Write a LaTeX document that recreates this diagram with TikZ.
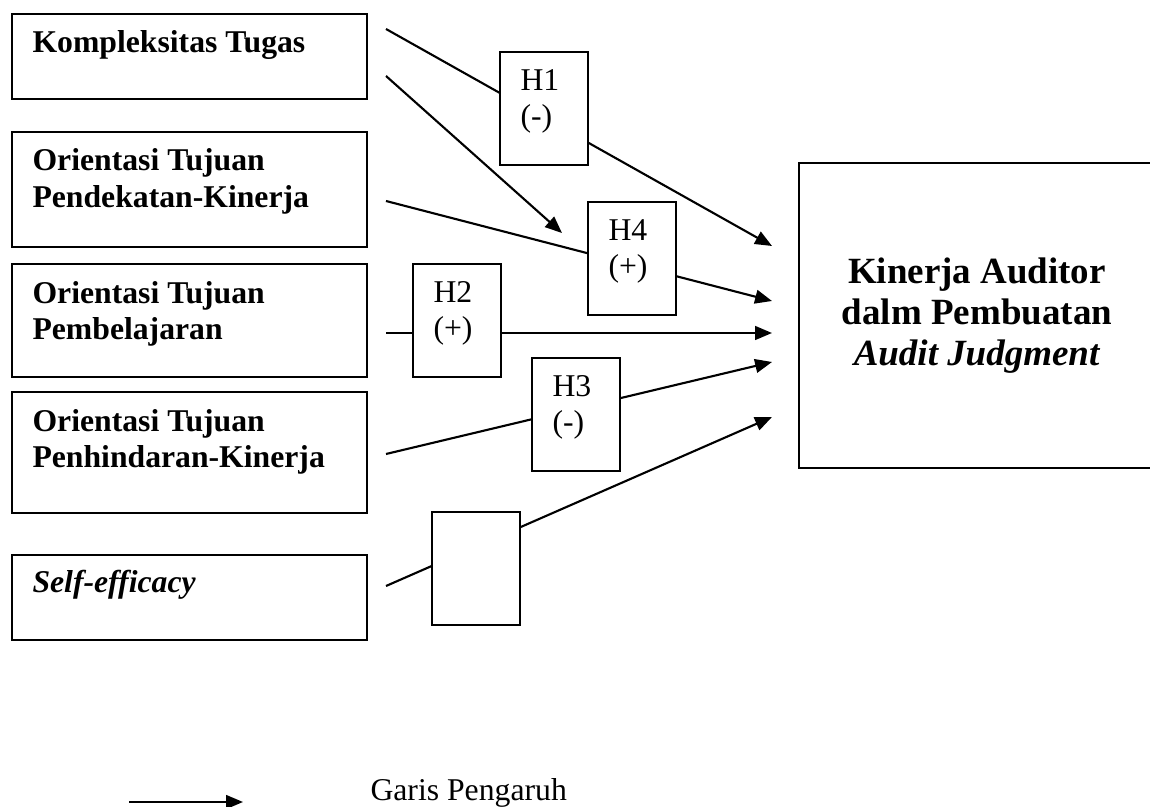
\documentclass[tikz,border=0pt]{standalone}
\usepackage{fontspec}
\setmainfont{Liberation Serif}
\usetikzlibrary{arrows.meta}

\tikzset{
	box/.style={draw, line width=0.8pt, minimum width=134.4pt, anchor=north west},
	hyp/.style={draw, fill=white, line width=0.8pt, minimum width=33.3pt, minimum height=42.6pt, anchor=north west},
	lbl/.style={font=\fontsize{12}{13.8}\selectfont\bfseries, align=left, inner sep=0pt, anchor=base west},
	htxt/.style={font=\fontsize{12}{13.8}\selectfont, align=left, inner sep=0pt, anchor=base west},
	arrow/.style={-{Triangle[length=6.4pt, width=5.2pt]}, line width=0.8pt}
}

\begin{document}
\begin{tikzpicture}[x=0.37855pt, y=-0.37855pt]
\useasboundingbox (0,0) rectangle (1150,807);

\coordinate (s1) at (386,29);
\coordinate (s2) at (386,76);
\coordinate (s3) at (386,201);
\coordinate (s4) at (386,333);
\coordinate (s5) at (386,454);
\coordinate (s6) at (386,586);

\coordinate (t1) at (772,246);
\coordinate (t2) at (562,233);
\coordinate (t3) at (772,301);
\coordinate (t4) at (772,333);
\coordinate (t5) at (772,362);
\coordinate (t6) at (772,417);

\draw [arrow] (s1) -- (t1);
\draw [arrow] (s2) -- (t2);
\draw [arrow] (s3) -- (t3);
\draw [arrow] (s4) -- (t4);
\draw [arrow] (s5) -- (t5);
\draw [arrow] (s6) -- (t6);

\node (kt) at (11,13) [box, minimum height=32.2pt] {};
\node (otpk) at (11,131) [box, minimum height=43.5pt] {};
\node (otp) at (11,263) [box, minimum height=42.8pt] {};
\node (othk) at (11,391) [box, minimum height=45.8pt] {};
\node (se) at (11,554) [box, minimum height=32.2pt] {};

\node (ktText) at ([xshift=7.95pt,yshift=-15.1pt]kt.north west) [lbl] {Kompleksitas Tugas};
\node (otpkText) at ([xshift=7.95pt,yshift=-28.9pt]otpk.north west) [lbl] {Orientasi Tujuan\\Pendekatan-Kinerja};
\node (otpText) at ([xshift=7.95pt,yshift=-29.1pt]otp.north west) [lbl] {Orientasi Tujuan\\Pembelajaran};
\node (othkText) at ([xshift=7.95pt,yshift=-29.1pt]othk.north west) [lbl] {Orientasi Tujuan\\Penhindaran-Kinerja};
\node (seText) at ([xshift=7.95pt,yshift=-14.5pt]se.north west) [lbl] {\textit{Self-efficacy}};

\node (h1) at (499,51) [hyp] {};
\node (h4) at (587,201) [hyp] {};
\node (h2) at (412,263) [hyp] {};
\node (h3) at (531,357) [hyp] {};
\node (h5) at (431,511) [hyp] {};

\node (h1Text) at ([xshift=7.95pt,yshift=-28.6pt]h1.north west) [htxt] {H1\\(-)};
\node (h4Text) at ([xshift=7.95pt,yshift=-28.6pt]h4.north west) [htxt] {H4\\(+)};
\node (h2Text) at ([xshift=7.95pt,yshift=-28.6pt]h2.north west) [htxt] {H2\\(+)};
\node (h3Text) at ([xshift=7.95pt,yshift=-28.6pt]h3.north west) [htxt] {H3\\(-)};

\node (kinerja) at (977,315.5) [draw, line width=0.8pt, minimum width=134.8pt, minimum height=115.5pt, align=center, font=\fontsize{14}{15.5}\selectfont\bfseries] {Kinerja Auditor\\dalm Pembuatan\\\textit{Audit Judgment}};

\coordinate (l1) at (129,802);
\coordinate (l2) at (243,802);
\draw [arrow] (l1) -- (l2);
\node (legend) at (370,800) [htxt] {Garis Pengaruh};

\end{tikzpicture}
\end{document}
